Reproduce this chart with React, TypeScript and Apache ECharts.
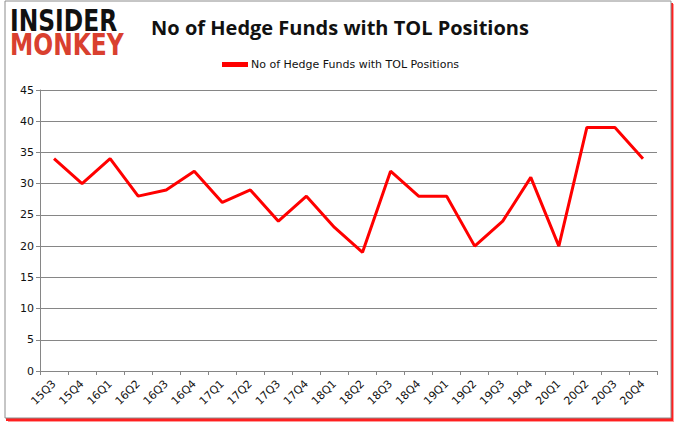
import React, { useEffect, useRef } from "react";
import * as echarts from "echarts";

const categories = ["15Q3","15Q4","16Q1","16Q2","16Q3","16Q4","17Q1","17Q2","17Q3","17Q4","18Q1","18Q2","18Q3","18Q4","19Q1","19Q2","19Q3","19Q4","20Q1","20Q2","20Q3","20Q4"];
const values = [34,30,34,28,29,32,27,29,24,28,23,19,32,28,28,20,24,31,20,39,39,34];
const seriesName = "No of Hedge Funds with TOL Positions";
const titleText = "No of Hedge Funds with TOL Positions";

export default function App() {
  const ref = useRef<HTMLDivElement>(null);
  useEffect(() => {
    const chart = echarts.init(ref.current!, null, { renderer: "svg" });
    chart.setOption({
      animation: false,
      backgroundColor: "#ffffff",
      graphic: [
        { type: "rect", z: -10, shape: { x: 8, y: 4, width: 666, height: 418 }, style: { fill: "#ff9a9a" } },
        { type: "rect", z: -9, shape: { x: 6, y: 3, width: 667, height: 418 }, style: { fill: "#ff2020" } },
        { type: "rect", z: -8, shape: { x: 5, y: 1, width: 666, height: 417 }, style: { fill: "#ffffff", stroke: "#8c8c8c", lineWidth: 1 } },
        { type: "text", x: 10, y: 21, scaleY: 1.15, style: { text: "INSIDER", fill: "#111111", verticalAlign: "middle", font: "bold 26px 'DejaVu Sans Condensed', 'DejaVu Sans'" } },
        { type: "text", x: 10, y: 45, scaleY: 1.15, style: { text: "MONKEY", fill: "#d9402f", verticalAlign: "middle", font: "bold 26px 'DejaVu Sans Condensed', 'DejaVu Sans'" } },
        { type: "text", x: 340, y: 27, style: { text: titleText, fill: "#111111", align: "center", verticalAlign: "middle", font: "bold 20px 'Open Sans', 'Liberation Sans'" } },
      ],
      legend: {
        top: 54,
        left: 217,
        itemWidth: 26,
        itemHeight: 5,
        itemGap: 2,
        icon: "rect",
        textStyle: { fontFamily: "'DejaVu Sans'", fontSize: 11, color: "#111111", padding: [0, 0, 0, -2] },
        data: [seriesName],
      },
      grid: { left: 40, right: 21, top: 90, bottom: 60 },
      xAxis: {
        type: "category",
        data: categories,
        boundaryGap: true,
        axisLine: { lineStyle: { color: "#868686" } },
        axisTick: { show: true, alignWithLabel: false, length: 4, lineStyle: { color: "#868686" } },
        axisLabel: { rotate: 45, fontFamily: "'DejaVu Sans'", fontSize: 11, color: "#111111", interval: 0, margin: 11 },
      },
      yAxis: {
        type: "value",
        min: 0,
        max: 45,
        interval: 5,
        axisLine: { show: true, lineStyle: { color: "#868686" } },
        axisTick: { show: true, length: 4, lineStyle: { color: "#868686" } },
        splitLine: { lineStyle: { color: "#868686" } },
        axisLabel: { fontFamily: "'DejaVu Sans'", fontSize: 11, color: "#111111", margin: 6 },
      },
      series: [
        {
          name: seriesName,
          type: "line",
          data: values,
          showSymbol: false,
          symbol: "none",
          lineStyle: { color: "#ff0000", width: 3 },
          itemStyle: { color: "#ff0000" },
        },
      ],
    });
    return () => chart.dispose();
  }, []);
  return <div ref={ref} style={{ width: 678, height: 431, position: "absolute", left: 0, top: 0 }} />;
}
